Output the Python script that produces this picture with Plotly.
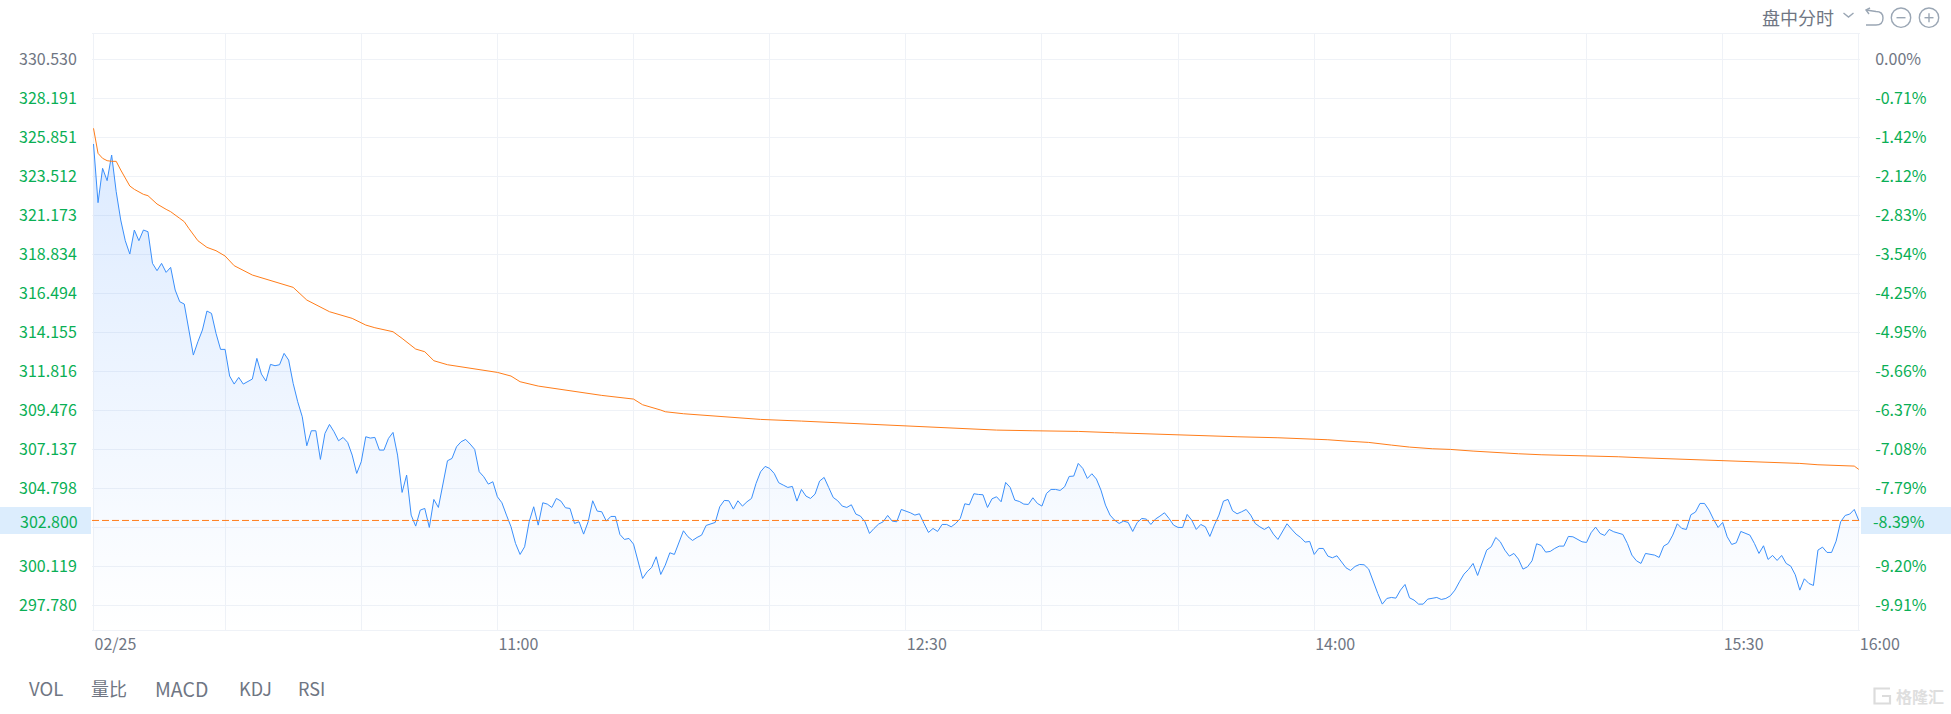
import plotly.graph_objects as go

MINUTES = list(range(1, 391))
PRICE = [
325.45,321.93,323.99,323.25,324.79,322.59,320.89,319.65,318.85,320.29,
319.65,320.29,320.19,318.29,317.85,318.29,317.75,318.05,316.69,315.99,
315.85,314.29,312.79,313.59,314.29,315.43,315.29,314.09,313.13,313.13,
311.53,311.05,311.45,311.05,311.19,311.35,312.59,311.65,311.23,312.23,
312.15,312.21,312.89,312.49,311.09,309.99,309.09,307.35,308.25,308.25,
306.53,308.09,308.63,308.19,307.65,307.85,307.55,306.79,305.69,306.39,
307.89,307.81,307.85,307.09,307.09,307.79,308.15,306.79,304.55,305.59,
303.19,302.53,303.49,303.59,302.45,304.13,303.65,304.99,306.45,306.59,
307.29,307.59,307.73,307.45,307.13,305.79,305.49,305.05,305.19,304.29,
303.93,303.19,302.49,301.49,300.83,301.29,302.79,303.69,302.59,303.93,
303.85,303.65,304.19,304.03,303.63,303.59,302.69,302.79,302.05,302.79,
304.05,303.43,303.39,302.83,303.11,303.11,302.03,301.73,301.79,301.45,
300.49,299.39,299.79,300.05,300.69,299.63,300.19,300.93,300.83,301.59,
302.25,301.89,301.67,301.85,301.99,302.57,302.67,302.75,303.69,304.07,
304.05,303.55,304.05,303.73,303.99,304.19,305.09,305.79,306.11,305.99,
305.69,305.13,304.99,304.85,304.91,304.03,304.73,304.33,304.19,304.45,
305.23,305.45,304.85,304.25,304.05,303.73,303.65,303.81,303.25,303.13,
302.79,302.09,302.39,302.65,302.79,303.17,302.83,302.79,303.53,303.45,
303.33,303.19,303.27,302.69,302.15,302.39,302.21,302.63,302.63,302.49,
302.69,302.99,303.87,303.81,304.47,304.43,304.41,303.65,304.17,304.29,
303.99,305.15,304.85,304.09,304.01,303.85,303.83,304.23,303.89,303.73,
304.49,304.73,304.73,304.67,304.89,305.51,305.53,306.29,305.99,305.39,
305.67,305.35,304.69,303.79,303.19,302.89,302.69,302.83,302.75,302.21,
302.75,302.99,302.95,302.63,302.95,303.13,303.33,302.99,302.59,302.45,
302.45,303.23,302.89,302.33,302.63,302.49,301.91,302.59,303.19,304.03,
304.13,303.45,303.27,303.39,303.53,303.19,302.69,302.49,302.33,302.49,
302.05,301.73,302.23,302.67,302.35,302.05,301.85,301.57,301.61,300.83,
301.19,301.19,300.73,300.63,300.75,300.39,300.03,299.87,300.11,300.23,
300.21,299.95,299.19,298.49,297.85,298.19,298.25,298.21,298.69,299.03,
298.23,298.09,297.85,297.85,298.15,298.21,298.25,298.13,298.19,298.35,
298.69,299.19,299.65,299.93,300.29,299.57,300.29,301.09,301.29,301.85,
301.59,301.09,300.73,300.89,300.55,299.95,300.09,300.45,301.47,301.37,
300.97,301.01,301.19,301.33,301.33,301.91,301.89,301.73,301.59,301.55,
302.13,302.47,302.09,301.97,302.33,302.19,302.09,302.03,301.49,300.79,
300.45,300.29,300.89,300.83,300.79,300.65,301.33,301.49,301.99,302.67,
302.39,302.33,303.21,303.37,303.89,303.89,303.49,302.93,302.45,302.75,
301.89,301.43,301.53,302.21,302.11,301.99,301.49,300.89,301.35,300.53,
300.77,300.47,300.77,300.29,300.13,299.61,298.69,299.37,299.09,298.97,
301.09,301.27,300.95,300.95,301.63,302.79,303.17,303.25,303.53,302.87,
]

AVG_MINUTES = [1,2,3,4,5,6,7,9,10,12,13,15,17,18,20,21,22,24,26,28,30,32,36,40,45,48,53,58,61,63,67,69,72,74,76,79,82,86,90,
               93,95,99,104,110,113,120,122,126,127,131,137,141,148,157,163,170,177,185,190,195,200,
               208,218,226,232,239,247,253,262,268,273,277,282,287,291,296,300,305,310,
               315,320,328,337,342,349,356,363,370,377,381,385,389,390]
AVG_PRICE = [326.39,324.89,324.59,324.45,324.41,324.41,323.89,322.93,322.73,322.43,322.35,321.85,321.53,321.39,320.99,320.79,320.39,319.65,319.25,319.05,318.73,318.15,317.59,317.25,316.85,316.09,315.39,314.99,314.59,314.43,314.19,313.79,313.15,312.99,312.45,312.21,312.09,311.95,311.75,
             311.53,311.19,310.93,310.73,310.49,310.37,310.15,309.81,309.49,309.39,309.27,309.15,309.05,308.93,308.83,308.75,308.69,308.59,308.45,308.39,308.33,308.29,
             308.25,308.21,308.13,308.07,308.01,307.95,307.89,307.83,307.77,307.71,307.63,307.55,307.39,307.27,307.17,307.13,307.03,306.93,
             306.87,306.81,306.77,306.69,306.63,306.57,306.51,306.45,306.39,306.29,306.21,306.15,306.13,305.93]

LAST_LEVEL = 302.87

Y_TICKS = [330.530,328.191,325.851,323.512,321.173,318.834,316.494,314.155,311.816,309.476,307.137,304.798,302.459,300.119,297.780]
LEFT_LABELS = ['<span style="color:#6f7683">330.530</span>','328.191','325.851','323.512','321.173','318.834','316.494','314.155','311.816','309.476','307.137','304.798','','300.119','297.780']
RIGHT_LABELS = ['<span style="color:#6f7683">0.00%</span>','-0.71%','-1.42%','-2.12%','-2.83%','-3.54%','-4.25%','-4.95%','-5.66%','-6.37%','-7.08%','-7.79%','','-9.20%','-9.91%']
X_TICKS = [1,30,60,90,120,150,180,210,240,270,300,330,360,390]
X_LABELS = ['02/25','','','11:00','','','12:30','','','14:00','','','15:30','16:00']
INDICATORS = [('VOL',28,18.5),('量比',90,18),('MACD',154,19.5),('KDJ',238,18),('RSI',297,18)]

W, H = 1951, 714
L, R, T, B = 92, 1860, 34, 630
FONT = 'Noto Sans CJK SC'
GRID = '#eff2f7'
GREEN = '#0aaf55'
GREY = '#6f7683'
BLUE = '#3a8ffb'
ORANGE = '#ff7d1a'
ICON = '#9aa6b4'

def px(x):
    return (x - L) / (R - L)

def py(y):
    return 1 - (y - T) / (B - T)

XR = [1 - (93.5 - L) / 4.538, 390 + (R - 1858.8) / 4.538]
YR = [297.78 - (B - 605.3) / 16.67, 330.53 + (59.3 - T) / 16.67]

fig = go.Figure()
fig.add_trace(go.Scatter(
    x=MINUTES, y=PRICE, mode='lines', line=dict(color=BLUE, width=1), fill='tozeroy',
    fillgradient=dict(type='vertical', start=YR[0], stop=326,
                      colorscale=[[0, 'rgba(60,140,255,0.0)'], [1, 'rgba(60,140,255,0.18)']]),
    hoverinfo='skip', showlegend=False))
fig.add_trace(go.Scatter(x=AVG_MINUTES, y=AVG_PRICE, mode='lines', line=dict(color=ORANGE, width=1),
                         hoverinfo='skip', showlegend=False))
fig.add_trace(go.Scatter(x=[MINUTES[0]], y=[Y_TICKS[0]], yaxis='y2', mode='lines',
                         line=dict(width=0), hoverinfo='skip', showlegend=False))

def rect(x0, y0, x1, y1, color):
    return dict(type='rect', xref='paper', yref='paper', x0=px(x0), x1=px(x1), y0=py(y0), y1=py(y1),
                fillcolor=color, line=dict(width=0), layer='below')

def path(points, color=ICON, width=1.4):
    d = ' '.join(points)
    return dict(type='path', xref='paper', yref='paper', path=d, line=dict(color=color, width=width))

def P(cmd, *pairs):
    out = []
    for i in range(0, len(pairs), 2):
        out.append(f'{px(pairs[i]):.6f},{py(pairs[i+1]):.6f}')
    return cmd + ' '.join(out)

def circle(cx, cy, r):
    return dict(type='circle', xref='paper', yref='paper', x0=px(cx-r), x1=px(cx+r), y0=py(cy-r), y1=py(cy+r),
                line=dict(color=ICON, width=1.4))

shapes = [
    rect(0, 507, 91, 534, '#dcedfd'),
    rect(1861, 507, 1951, 534, '#dcedfd'),
    dict(type='line', xref='paper', yref='y', x0=0, x1=1, y0=LAST_LEVEL, y1=LAST_LEVEL,
         line=dict(color=ORANGE, width=1, dash='7px,3px')),
    path([P('M', 1843.5, 13), P('L', 1848.5, 17), P('L', 1853.5, 13)]),
    path([P('M', 1866, 10), P('L', 1876, 11.5), P('Q', 1883, 11.5, 1883, 18), P('Q', 1883, 25, 1876, 25), P('L', 1866, 25)]),
    path([P('M', 1870, 8), P('L', 1866, 10), P('L', 1869, 14)]),
    circle(1901, 17.7, 9.7),
    path([P('M', 1896.5, 17.7), P('L', 1905.5, 17.7)]),
    circle(1929, 17.7, 9.7),
    path([P('M', 1924.5, 17.7), P('L', 1933.5, 17.7)]),
    path([P('M', 1929, 13.2), P('L', 1929, 22.2)]),
    path([P('M', 1890, 688.5), P('L', 1874.5, 688.5), P('L', 1874.5, 703.5), P('L', 1890, 703.5), P('L', 1890, 696), P('L', 1882, 696)],
         color='#dcdcdc', width=2.2),
]

def label(x, y, text, size, color, anchor='left', bold=False):
    return dict(xref='paper', yref='paper', x=px(x), y=py(y), text=f'<b>{text}</b>' if bold else text,
                showarrow=False, xanchor=anchor, yanchor='middle', borderpad=0,
                font=dict(family=FONT, size=size, color=color))

annotations = [
    label(79, 521, '302.800', 16, GREEN, 'right'),
    label(1872, 521, '-8.39%', 16, GREEN),
    label(1761, 17, '盘中分时', 18, GREY),
    label(1895, 696, '格隆汇', 16, '#dedede', bold=True),
]
annotations += [label(x, 688, name, size, GREY) for name, x, size in INDICATORS]

fig.update_layout(
    width=W, height=H, margin=dict(l=L, r=W-R, t=T, b=H-B, autoexpand=False),
    paper_bgcolor='white', plot_bgcolor='white', showlegend=False,
    font=dict(family=FONT, size=16, color=GREY),
    shapes=shapes, annotations=annotations,
    xaxis=dict(range=XR, tickmode='array', tickvals=X_TICKS, ticktext=X_LABELS, ticks='outside', ticklen=5,
               tickcolor='rgba(0,0,0,0)', ticklabelposition='outside right', tickfont=dict(color=GREY, size=16),
               showgrid=True, gridcolor=GRID, gridwidth=1, zeroline=False, showline=True, linecolor=GRID,
               linewidth=1, mirror=True, automargin=False),
    yaxis=dict(range=YR, tickmode='array', tickvals=Y_TICKS, ticktext=LEFT_LABELS, ticks='outside', ticklen=11,
               tickcolor='rgba(0,0,0,0)', tickfont=dict(color=GREEN, size=16), showgrid=True, gridcolor=GRID,
               gridwidth=1, zeroline=False, showline=False, automargin=False),
    yaxis2=dict(range=YR, overlaying='y', side='right', tickmode='array', tickvals=Y_TICKS, ticktext=RIGHT_LABELS,
                ticks='outside', ticklen=11, tickcolor='rgba(0,0,0,0)', tickfont=dict(color=GREEN, size=16),
                showgrid=False, zeroline=False, showline=False, automargin=False),
)

fig.write_html('out.html', config={'displayModeBar': False},
               post_script="document.body.style.margin='0';")
